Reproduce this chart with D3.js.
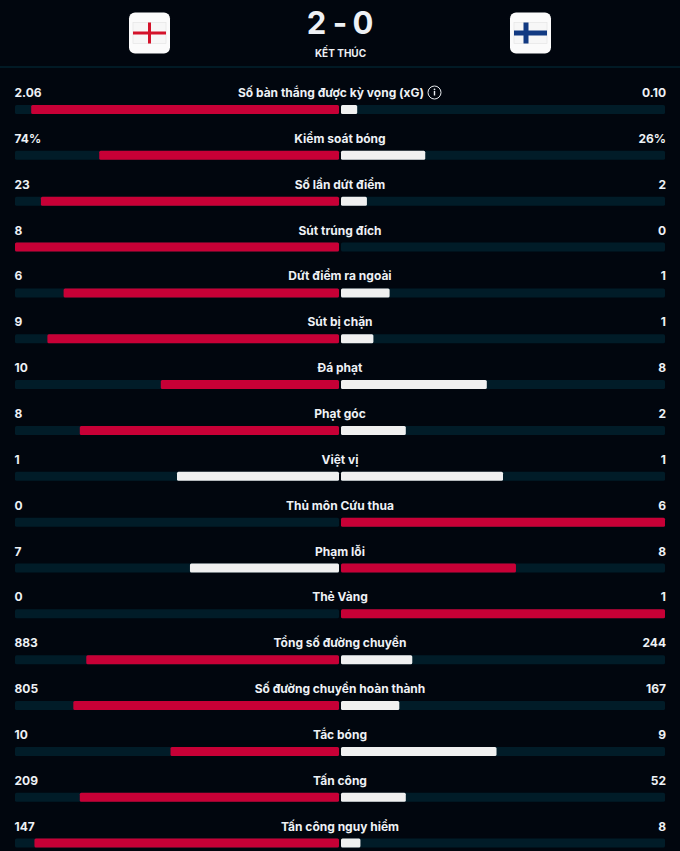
<!DOCTYPE html>
<html><head><meta charset="utf-8">
<script src="https://cdn.jsdelivr.net/npm/d3@7/dist/d3.min.js"></script>
<style>html,body{margin:0;padding:0;background:#01060e;overflow:hidden}svg{display:block}text{font-family:Inter,"Noto Sans",sans-serif;font-weight:700;fill:#eef1f5}</style>
</head><body><div id="c"></div>
<script>
const statLabels=["Số bàn thắng được kỳ vọng (xG)","Kiểm soát bóng","Số lần dứt điểm","Sút trúng đích","Dứt điểm ra ngoài","Sút bị chặn","Đá phạt","Phạt góc","Việt vị","Thủ môn Cứu thua","Phạm lỗi","Thẻ Vàng","Tổng số đường chuyền","Số đường chuyền hoàn thành","Tắc bóng","Tấn công","Tấn công nguy hiểm"];
const homeValues=[2.06,74,23,8,6,9,10,8,1,0,7,0,883,805,10,209,147];
const awayValues=[0.10,26,2,0,1,1,8,2,1,6,8,1,244,167,9,52,8];
const valueSuffix=["","%","","","","","","","","","","","","","","",""];
const scoreParts=["2","-","0"], statusText="KẾT THÚC";
const W=680,H=851;
const svg=d3.select("#c").append("svg").attr("width",W).attr("height",H);
svg.append("rect").attr("width",W).attr("height",H).attr("fill","#01060e");
const TRACK="#011c28",RED="#c70036",WHITE="#f0f0f0";
const idx=d3.range(statLabels.length);
const y=d3.scalePoint().domain(idx).range([110,843.6]);
const share=d3.scaleLinear().domain([0,100]).range([0,324]);
svg.append("rect").attr("x",0).attr("y",66).attr("width",W).attr("height",2).attr("fill","#011a25");
const scoreX=[316.5,340,363];
svg.selectAll("text.score").data(scoreParts).join("text").attr("class","score").attr("x",(d,i)=>scoreX[i]).attr("y",34).attr("text-anchor","middle").attr("font-size",31).text(d=>d);
svg.append("text").attr("x",340.5).attr("y",57).attr("text-anchor","middle").attr("font-size",10).text(statusText);
function flag(x,kind){
 const g=svg.append("g").attr("transform",`translate(${x},12.5)`);
 g.append("rect").attr("width",41).attr("height",41).attr("rx",6).attr("fill","#fbfbfb");
 g.append("rect").attr("x",4).attr("y",10).attr("width",33).attr("height",21).attr("fill","#f7f7f7").attr("stroke","#e6e6e6").attr("stroke-width",.7);
 const c=kind==="eng"?"#d4122a":"#123a82";
 const t=kind==="eng"?3:5;
 g.append("rect").attr("x",4).attr("y",20.5-t/2).attr("width",33).attr("height",t).attr("fill",c);
 const vx=kind==="eng"?20.5:16;
 g.append("rect").attr("x",vx-t/2).attr("y",10).attr("width",t).attr("height",21).attr("fill",c);
}
flag(129,"eng");flag(510,"fin");
const rows=svg.selectAll("g.row").data(idx).join("g").attr("class","row").attr("transform",i=>`translate(0,${y(i)})`);
rows.append("rect").attr("x",15).attr("y",-5).attr("width",324).attr("height",9).attr("rx",1.5).attr("fill",TRACK);
rows.append("rect").attr("x",341).attr("y",-5).attr("width",324).attr("height",9).attr("rx",1.5).attr("fill",TRACK);
const pct=i=>Math.floor(100*homeValues[i]/(homeValues[i]+awayValues[i]));
const colH=i=>homeValues[i]>awayValues[i]?RED:WHITE;
const colA=i=>awayValues[i]>homeValues[i]?RED:WHITE;
rows.append("rect").attr("x",i=>339-share(pct(i))).attr("y",-5).attr("width",i=>share(pct(i))).attr("height",9).attr("rx",1.5).attr("fill",colH);
rows.append("rect").attr("x",341).attr("y",-5).attr("width",i=>share(100-pct(i))).attr("height",9).attr("rx",1.5).attr("fill",colA);
rows.append("text").attr("x",i=>i===0?331:340).attr("y",-13).attr("text-anchor","middle").attr("font-size",12).text(i=>statLabels[i]);
rows.append("text").attr("x",14.5).attr("y",-13).attr("font-size",12).text(i=>homeValues[i]+valueSuffix[i]);
rows.append("text").attr("x",666).attr("y",-13).attr("text-anchor","end").attr("font-size",12).text(i=>(i===0?awayValues[i].toFixed(2):awayValues[i])+valueSuffix[i]);
const info=svg.append("g").attr("transform","translate(434.5,92.5)");
info.append("circle").attr("r",6.5).attr("fill","none").attr("stroke","#e8ebef").attr("stroke-width",1);
info.append("rect").attr("x",-.7).attr("y",-1.5).attr("width",1.4).attr("height",4.5).attr("fill","#e8ebef");
info.append("circle").attr("cy",-3.2).attr("r",.9).attr("fill","#e8ebef");
</script></body></html>
